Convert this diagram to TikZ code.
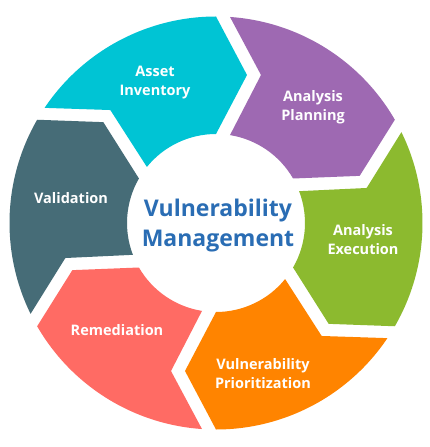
\documentclass[tikz,border=0pt]{standalone}
\usepackage{fontspec}
\setmainfont{Open Sans}
\usetikzlibrary{calc}
\definecolor{cCyan}{HTML}{00C4D4}
\definecolor{cPurple}{HTML}{9E69B2}
\definecolor{cGreen}{HTML}{8CBA2F}
\definecolor{cOrange}{HTML}{FF8400}
\definecolor{cPink}{HTML}{FF6B64}
\definecolor{cTeal}{HTML}{466C77}
\definecolor{cBlue}{HTML}{2A6DB4}
\tikzset{
  lbl/.style={text=white,font=\fontsize{14.5}{19}\selectfont\bfseries,align=center,inner sep=0pt},
  ctr/.style={text=cBlue,font=\fontsize{23}{30}\selectfont\bfseries,align=center,inner sep=0pt}
}
\newcommand{\cycseg}[2]{%
  \pgfmathsetmacro{\tL}{#1}%
  \pgfmathsetmacro{\tT}{#1+60}%
  \pgfmathsetmacro{\sO}{\tT-3.89}%
  \pgfmathsetmacro{\eI}{\tT-9.05}%
  \fill[#2] (\sO:206.5) arc[start angle=\sO, end angle=\tL, radius=206.5]
    -- ($(\tL:148)+(\tL-90:31)$)
    -- (\tL:89) arc[start angle=\tL, end angle=\eI, radius=89]
    -- ($(\tT:148)+(\tT-90:45)$) -- cycle;%
}
\begin{document}
\begin{tikzpicture}[x=1pt,y=1pt]
\useasboundingbox[fill=white] (-216,-224) rectangle (214,223);
\cycseg{90}{cCyan}
\cycseg{30}{cPurple}
\cycseg{-30}{cGreen}
\cycseg{-90}{cOrange}
\cycseg{-150}{cPink}
\cycseg{150}{cTeal}
\node[lbl] (asset) at (-61,140) {Asset\\Inventory};
\node[lbl] (plan) at (97,116) {Analysis\\Planning};
\node[lbl] (exec) at (147,-17) {Analysis\\Execution};
\node[lbl] (prio) at (47,-151) {Vulnerability\\Prioritization};
\node[lbl] (rem) at (-99,-107) {Remediation};
\node[lbl] (val) at (-145,25) {Validation};
\node[ctr] (center) at (2,-3) {Vulnerability\\Management};
\end{tikzpicture}
\end{document}
